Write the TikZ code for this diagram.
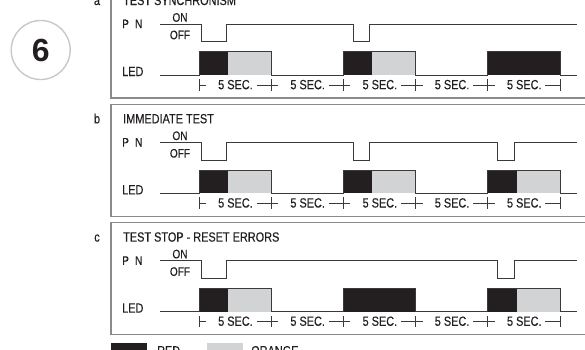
\documentclass[tikz,border=0pt]{standalone}
\usepackage{fontspec}
\setmainfont{Liberation Sans}[FakeStretch=0.82, FakeBold=0.35]
\newfontfamily\widefont{Liberation Sans}
\definecolor{ledblack}{HTML}{231F20}
\definecolor{ledgray}{HTML}{D1D3D4}
\definecolor{framegray}{HTML}{8A8A8A}
\definecolor{sigline}{HTML}{3A3A3A}
\definecolor{ringgray}{HTML}{C8C8C8}

\begin{document}
\begin{tikzpicture}[x=1pt, y=-1pt,
    sig/.style={draw=sigline, line width=0.95pt},
    frame/.style={draw=framegray, line width=1.3pt},
    txt/.style={font=\fontsize{13.3}{13.3}\selectfont, text=ledblack, inner sep=0pt},
    small/.style={font=\fontsize{12.3}{12.3}\selectfont, text=ledblack, inner sep=0pt}]
\path[use as bounding box, clip] (0,0) rectangle (585,349);

% Step number
\node[circle, draw=ringgray, line width=1.4pt, minimum size=59pt, inner sep=0pt] (stepring) at (40.7,50) {};
\node[font=\widefont\bfseries\fontsize{32}{32}\selectfont, text=ledblack, inner sep=0pt] (stepnum) at (stepring) {6};

% Three timing panels
\foreach \yy/\tag/\title/\pulses/\blocks in {
    -13.8/a/{TEST SYNCHRONISM}/{201/226,353/369}/{199/228/ledblack,228/271.2/ledgray,343.4/372.4/ledblack,372.4/415.6/ledgray,487.8/560/ledblack},
    104.5/b/{IMMEDIATE TEST}/{201/226,353/369,497/514}/{199/228/ledblack,228/271.2/ledgray,343.4/372.4/ledblack,372.4/415.6/ledgray,487.8/516.8/ledblack,516.8/560/ledgray},
    222.8/c/{TEST STOP - RESET ERRORS}/{201/226,497/514}/{199/228/ledblack,228/271.2/ledgray,343.4/415.6/ledblack,487.8/516.8/ledblack,516.8/560/ledgray}}{
  \begin{scope}[shift={(0,\yy)}]
    \draw[frame] (111,0) rectangle (600,111.8);
    \node[txt, anchor=base] (tag-\tag) at (97,18.8) {\tag};
    \node[txt, anchor=base west] (title-\tag) at (123,18.8) {\title};

    % P N signal
    \node[small, anchor=base west] (pn-\tag) at (122,42) {P\hspace{0.5em}N};
    \node[small, anchor=base] (on-\tag) at (180,35.5) {ON};
    \node[small, anchor=base] (off-\tag) at (180,53) {OFF};
    \draw[sig] (160,38.1) foreach \xa/\xb in \pulses {
        -- (\xa,38.1) -- (\xa,55.5) -- (\xb,55.5) -- (\xb,38.1)} -- (577,38.1);

    % LED signal
    \node[txt, anchor=base west] (led-\tag) at (122,89.8) {LED};
    \foreach \xa/\xb/\col in \blocks {
      \fill[\col] (\xa,65.5) rectangle (\xb,88.8);
    }
    \draw[sig] (160,88.8) foreach \xa/\xb in {199/271.2,343.4/415.6,487.8/560} {
        -- (\xa,88.8) -- (\xa,65.5) -- (\xb,65.5) -- (\xb,88.8)} -- (577,88.8);

    % time scale
    \foreach \i in {0,...,5} {
      \draw[sig] ({199+72.2*\i},92.8) -- ({199+72.2*\i},104.5);
    }
    \foreach \i in {0,...,4} {
      \draw[sig] ({199+72.2*\i},98.8) -- ({206+72.2*\i},98.8);
      \draw[sig] ({256.5+72.2*\i},98.8) -- ({271.2+72.2*\i},98.8);
      \node[txt, anchor=base west] (sec-\tag-\i) at ({218+72.2*\i},103) {5 SEC.};
    }
  \end{scope}
}

% Legend
\fill[ledblack] (111,343) rectangle (147,360);
\node[txt, anchor=base west] (legred) at (157,355.3) {RED};
\fill[ledgray] (207,343) rectangle (243,360);
\node[txt, anchor=base west] (legorange) at (251,355.3) {ORANGE};
\end{tikzpicture}
\end{document}
